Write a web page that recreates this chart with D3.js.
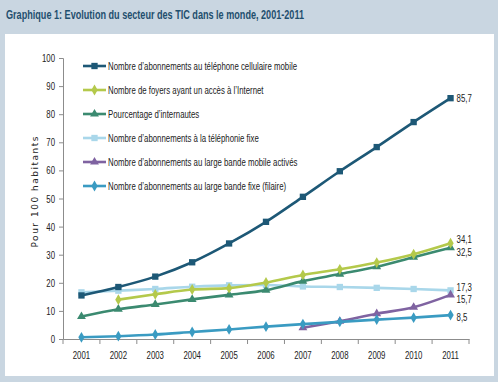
<!DOCTYPE html>
<html><head><meta charset="utf-8">
<script src="https://cdn.jsdelivr.net/npm/d3@7"></script>
<style>
html,body{margin:0;padding:0;background:#c9d6e1;}
svg{display:block;}
</style></head>
<body>
<svg id="c" width="498" height="382"></svg>
<script>
const years = ["2001","2002","2003","2004","2005","2006","2007","2008","2009","2010","2011"];
const yTicks = [0,10,20,30,40,50,60,70,80,90,100];
const seriesNames = [
  "Nombre d’abonnements au téléphone cellulaire mobile",
  "Nombre de foyers ayant un accès à l’Internet",
  "Pourcentage d’internautes",
  "Nombre d’abonnements à la téléphonie fixe",
  "Nombre d’abonnements au large bande mobile activés",
  "Nombre d’abonnements au large bande fixe (filaire)"
];
const mobile = [15.5,18.5,22.2,27.3,34.0,41.7,50.6,59.7,68.3,77.2,85.7];
const households = [null,14.0,15.9,17.6,18.1,20.1,22.8,24.8,27.2,30.2,34.1];
const internetUsers = [8.0,10.6,12.3,14.1,15.7,17.4,20.6,23.1,25.7,29.1,32.5];
const fixedPhone = [16.6,17.2,17.8,18.6,19.1,19.2,18.7,18.5,18.2,17.8,17.3];
const mobileBroadband = [null,null,null,null,null,null,4.0,6.3,9.0,11.3,15.7];
const fixedBroadband = [0.6,1.0,1.6,2.5,3.4,4.4,5.3,6.1,6.9,7.6,8.5];
const endLabels = ["85,7","34,1","32,5","17,3","15,7","8,5"];

const colors = ["#1d5876","#b4c94b","#3b8a70","#a9d7ea","#7f63a1","#3a9bc2"];
const shapes = [d3.symbolSquare,d3.symbolDiamond,d3.symbolTriangle,d3.symbolSquare,d3.symbolTriangle,d3.symbolDiamond];
const data = [mobile,households,internetUsers,fixedPhone,mobileBroadband,fixedBroadband];
const drawOrder = [3,4,5,2,1,0];
const labelDy = [0,-4,4,-3,4,2];

const svg = d3.select("#c");
const font = "'Liberation Sans','Arial',sans-serif";

svg.append("rect").attr("x",0).attr("y",0).attr("width",498).attr("height",382).attr("fill","#c9d6e1");
svg.append("rect").attr("x",5).attr("y",34).attr("width",489).attr("height",342).attr("fill","#ffffff");

const narrow = [];
function squeeze(sel){ narrow.push(sel); return sel; }

const title = svg.append("text").attr("x",6).attr("y",19)
  .attr("font-family",font).attr("font-weight","bold").attr("font-size",12.5)
  .attr("fill","#1f4f6e")
  .text("Graphique 1: Evolution du secteur des TIC dans le monde, 2001-2011");
title.attr("textLength",298).attr("lengthAdjust","spacingAndGlyphs");

const x = d3.scaleBand().domain(years).range([63,469]).padding(0);
const y = d3.scaleLinear().domain([0,100]).range([339,58]);

// Y axis
const ya = svg.append("g").attr("transform","translate(63,0)")
  .call(d3.axisLeft(y).tickValues(yTicks).tickSize(4).tickPadding(4));
ya.select(".domain").attr("stroke","#8c8c8c");
ya.selectAll(".tick line").attr("stroke","#8c8c8c");
ya.selectAll("text").attr("font-family",font).attr("font-size",11).attr("fill","#222").each(function(){squeeze(d3.select(this));});

// X axis
const xa = svg.append("g").attr("transform","translate(0,339)")
  .call(d3.axisBottom(x).tickSize(0).tickPadding(12));
xa.select(".domain").attr("stroke","#8c8c8c");
xa.selectAll("text").attr("font-family",font).attr("font-size",11).attr("fill","#222").each(function(){squeeze(d3.select(this));});
const bounds = years.map(d=>x(d)).concat([x(years[years.length-1])+x.bandwidth()]);
svg.append("g").selectAll("line").data(bounds).join("line")
  .attr("x1",d=>d).attr("x2",d=>d).attr("y1",339).attr("y2",344)
  .attr("stroke","#8c8c8c");

// Y label
svg.append("text").attr("transform","translate(38,192) rotate(-90)")
  .attr("text-anchor","middle").attr("font-family","'DejaVu Sans',sans-serif")
  .attr("font-size",9).attr("fill","#222")
  .attr("textLength",111).attr("lengthAdjust","spacing")
  .text("Pour 100 habitants");

const cx = d => x(d) + x.bandwidth()/2;
const line = d3.line().defined(d=>d.v!=null).x(d=>cx(d.year)).y(d=>y(d.v)).curve(d3.curveMonotoneX);

drawOrder.forEach(i=>{
  const pts = years.map((yr,j)=>({year:yr,v:data[i][j]}));
  const g = svg.append("g");
  g.append("path").attr("d",line(pts)).attr("fill","none")
    .attr("stroke",colors[i]).attr("stroke-width",2.6);
  g.selectAll("path.m").data(pts.filter(d=>d.v!=null)).join("path").attr("class","m")
    .attr("transform",d=>`translate(${cx(d.year)},${y(d.v)})`)
    .attr("d",d3.symbol().type(shapes[i]).size(shapes[i]===d3.symbolSquare?40:34))
    .attr("fill",colors[i]);
});
years.length && data.forEach((arr,i)=>{
  const v = arr[arr.length-1];
  squeeze(svg.append("text").attr("x",cx(years[years.length-1])+6).attr("y",y(v)+labelDy[i])
    .attr("dy","0.35em")
    .attr("font-family",font).attr("font-size",11).attr("fill","#222")
    .text(endLabels[i]));
});

// Legend
const lg = svg.append("g");
let first = null;
seriesNames.forEach((n,i)=>{
  const ly = 66 + i*24;
  lg.append("line").attr("x1",83).attr("x2",106).attr("y1",ly).attr("y2",ly)
    .attr("stroke",colors[i]).attr("stroke-width",2.6);
  lg.append("path").attr("transform",`translate(94.5,${ly})`)
    .attr("d",d3.symbol().type(shapes[i]).size(shapes[i]===d3.symbolSquare?40:34))
    .attr("fill",colors[i]);
  const t = lg.append("text").attr("x",108).attr("y",ly).attr("dy","0.35em")
    .attr("font-family",font).attr("font-size",11).attr("fill","#222").text(n);
  if(i===0) first = t;
  squeeze(t);
});

// Condense texts to mimic a narrow font
const f = 189 / first.node().getComputedTextLength();
narrow.forEach(s=>{
  const w = s.node().getComputedTextLength();
  s.attr("textLength", w*f).attr("lengthAdjust","spacingAndGlyphs");
});
</script>
</body></html>
